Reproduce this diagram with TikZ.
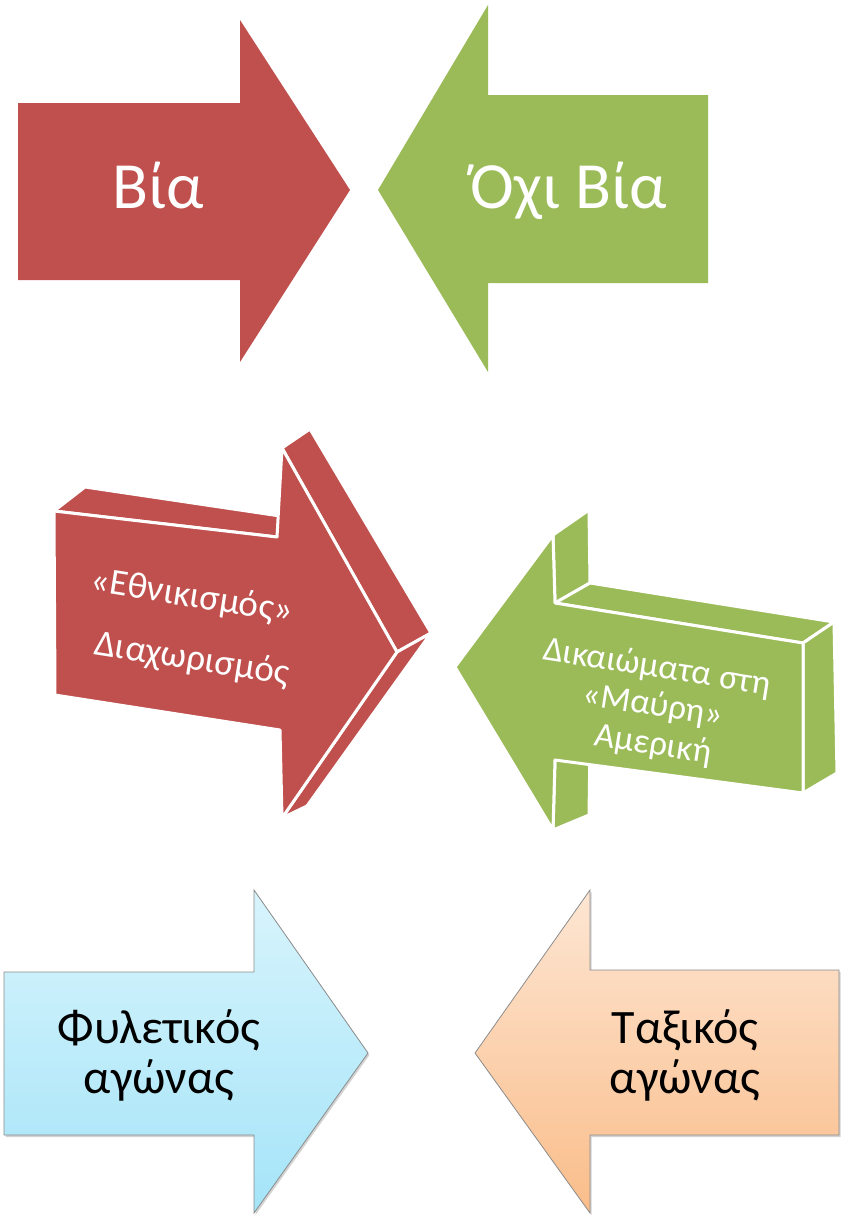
\documentclass[tikz,border=0pt]{standalone}
\usepackage{fontspec}
\setmainfont{Carlito}
\usetikzlibrary{shadows}
\definecolor{cred}{HTML}{C0504D}
\definecolor{cgreen}{HTML}{9BBB59}
\definecolor{btop}{HTML}{D8F4FC}
\definecolor{bbot}{HTML}{A4E4F8}
\definecolor{otop}{HTML}{FDE6D3}
\definecolor{obot}{HTML}{FABD8A}
\begin{document}
\begin{tikzpicture}[x=1pt,y=-1pt,
  face/.style={line width=3pt, draw=white, line join=round},
  bigtxt/.style={text=white, font=\fontsize{66}{79}\selectfont, anchor=base},
  midtxt/.style={text=white, rotate=-9, inner sep=0pt},
  flat/.style={draw=black!45, line width=0.8pt,
     drop shadow={shadow xshift=1.5pt, shadow yshift=-2pt, opacity=0.35}},
  lowtxt/.style={text=black, inner sep=0pt, font=\fontsize{48}{50}\selectfont}]
\useasboundingbox (0,0) rectangle (844,1215);

% top row
\fill[cred] (18,103) -- (240,103) -- (240,20) -- (350,190) -- (240,362) -- (240,280) -- (18,280) -- cycle;
\node[bigtxt] (via) at (158,208) {Βία};
\fill[cgreen] (708,95) -- (488,95) -- (488,5) -- (378,190) -- (488,372) -- (488,283) -- (708,283) -- cycle;
\node[bigtxt] (ochivia) at (569,208) {Όχι Βία};

% middle red 3D arrow
\path[fill=cred, face] (54,511) -- (277,537) -- (307,520) -- (85,487) -- cycle;
\path[fill=cred, face] (282,448) -- (397,652) -- (431,633) -- (310,429) -- cycle;
\path[fill=cred, face] (397,652) -- (282,818) -- (307,806) -- (431,633) -- cycle;
\path[fill=cred, face] (54,511) -- (277,537) -- (282,448) -- (397,652) -- (282,818) -- (280,730) -- (55,695) -- cycle;
\node[midtxt, font=\fontsize{37}{44}\selectfont] (ethn1) at (192,597) {«Εθνικισμός»};
\node[midtxt, font=\fontsize{37}{44}\selectfont] (ethn2) at (192,660) {Διαχωρισμός};

% middle green 3D arrow
\path[fill=cgreen, face] (553,535) -- (555,603) -- (590,583) -- (589,510) -- cycle;
\path[fill=cgreen, face] (555,603) -- (803,643) -- (834,622) -- (590,583) -- cycle;
\path[fill=cgreen, face] (803,643) -- (803,793) -- (837,773) -- (834,622) -- cycle;
\path[fill=cgreen, face] (555,760) -- (553,830) -- (589,815) -- (590,745) -- cycle;
\path[fill=cgreen, face] (455,667) -- (553,535) -- (555,603) -- (803,643) -- (803,793) -- (555,760) -- (553,830) -- cycle;
\node[midtxt, font=\fontsize{35}{40}\selectfont] (rights1) at (657,668) {Δικαιώματα στη};
\node[midtxt, font=\fontsize{35}{40}\selectfont] (rights2) at (653,706) {«Μαύρη»};
\node[midtxt, font=\fontsize{35}{40}\selectfont] (rights3) at (653,745) {Αμερική};

% bottom row
\path[flat, top color=btop, bottom color=bbot] (4,972) -- (254,972) -- (254,890) -- (368,1053) -- (254,1213) -- (254,1135) -- (4,1135) -- cycle;
\node[lowtxt] (phyl1) at (159,1030) {Φυλετικός};
\node[lowtxt] (phyl2) at (159,1080) {αγώνας};
\path[flat, top color=otop, bottom color=obot] (839,970) -- (590,970) -- (590,890) -- (475,1053) -- (590,1213) -- (590,1135) -- (839,1135) -- cycle;
\node[lowtxt] (taxi1) at (685,1030) {Ταξικός};
\node[lowtxt] (taxi2) at (685,1080) {αγώνας};
\end{tikzpicture}
\end{document}
